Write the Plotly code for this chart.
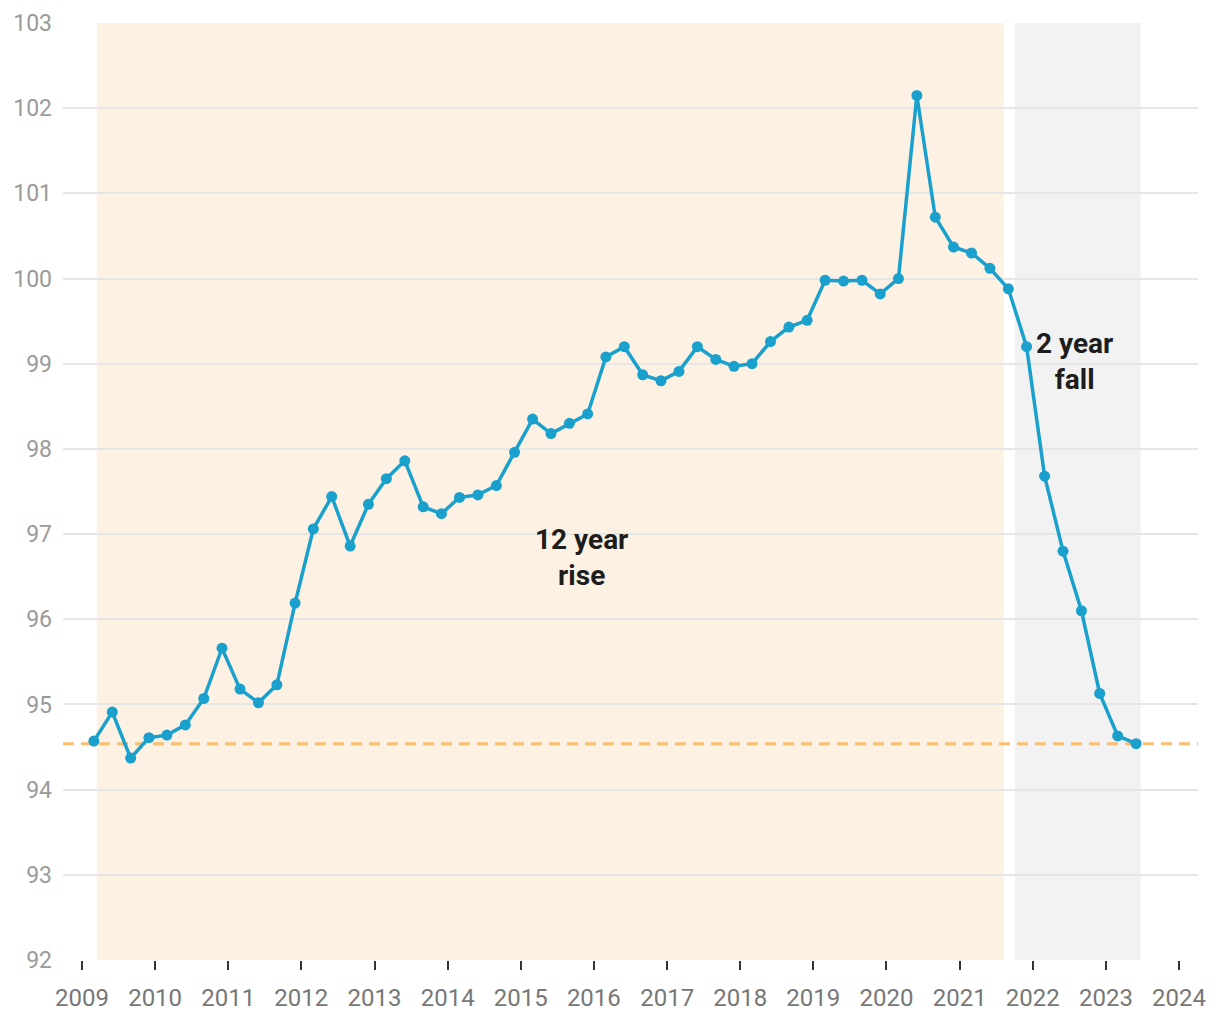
import plotly.graph_objects as go
import pandas as pd

# Quarterly index values, Mar 2009 .. Jun 2023
values = [
    94.57, 94.91, 94.37, 94.61, 94.64, 94.76, 95.07, 95.66, 95.18, 95.02,
    95.23, 96.19, 97.06, 97.44, 96.86, 97.35, 97.65, 97.86, 97.32, 97.24,
    97.43, 97.46, 97.57, 97.96, 98.35, 98.18, 98.30, 98.41, 99.08, 99.20,
    98.87, 98.80, 98.91, 99.20, 99.05, 98.97, 99.00, 99.26, 99.43, 99.51,
    99.98, 99.97, 99.98, 99.82, 100.00, 102.15, 100.72, 100.37, 100.30, 100.12,
    99.88, 99.20, 97.68, 96.80, 96.10, 95.13, 94.63, 94.54,
]
dates = pd.date_range("2009-03-01", periods=len(values), freq="3MS")

rise_period = ["2009-03-15", "2021-08-09"]
fall_period = ["2021-10-03", "2023-06-23"]

annotations_text = ["12 year<br>rise", "2 year<br>fall"]
annotations_x = ["2015-10-30", "2022-07-30"]
annotations_y = [96.72, 99.03]

year_ticks = [str(y) for y in range(2009, 2025)]

LINE = "#19a0cd"

fig = go.Figure()
fig.add_trace(go.Scatter(
    x=dates, y=values, mode="lines+markers",
    line=dict(color=LINE, width=3.5),
    marker=dict(color=LINE, size=11),
    hoverinfo="x+y", showlegend=False,
))

fig.add_shape(type="rect", xref="x", yref="paper", x0=rise_period[0], x1=rise_period[1],
              y0=0, y1=1, fillcolor="#fdf1e3", line_width=0, layer="below")
fig.add_shape(type="rect", xref="x", yref="paper", x0=fall_period[0], x1=fall_period[1],
              y0=0, y1=1, fillcolor="#f2f2f2", line_width=0, layer="below")
fig.add_shape(type="line", xref="paper", yref="y", x0=0, x1=1, y0=values[-1], y1=values[-1],
              line=dict(color="#fdbd6e", width=3, dash="11px,7px"), layer="between")

for t, x, y in zip(annotations_text, annotations_x, annotations_y):
    fig.add_annotation(x=x, y=y, text=t, showarrow=False,
                       font=dict(family="Roboto", size=28, color="#1d1d1d", weight="bold"),
                       align="center")

# page body has an 8px margin: keep figure inside the 1220x1020 viewport
fig.update_layout(
    width=1204, height=1004,
    margin=dict(l=55, r=14, t=15, b=52),
    paper_bgcolor="white", plot_bgcolor="white",
    font=dict(family="Roboto"),
)
fig.update_xaxes(
    type="date", range=["2008-09-28", "2024-04-05"],
    tickvals=[f"{y}-01-01" for y in year_ticks], ticktext=year_ticks,
    ticks="outside", ticklen=9, tickwidth=2, tickcolor="#333333",
    ticklabelstandoff=7, automargin=False,
    tickfont=dict(size=24, color="#777777"),
    showgrid=False, showline=False, zeroline=False,
)
fig.update_yaxes(
    range=[92, 103], dtick=1, tick0=92,
    showgrid=True, gridcolor="#e6e6e6", gridwidth=2,
    zeroline=False, showline=False, automargin=False,
    ticks="", ticklabelstandoff=10,
    tickfont=dict(size=23, color="#9a9a9a"),
)

fig.write_html("out.html")
